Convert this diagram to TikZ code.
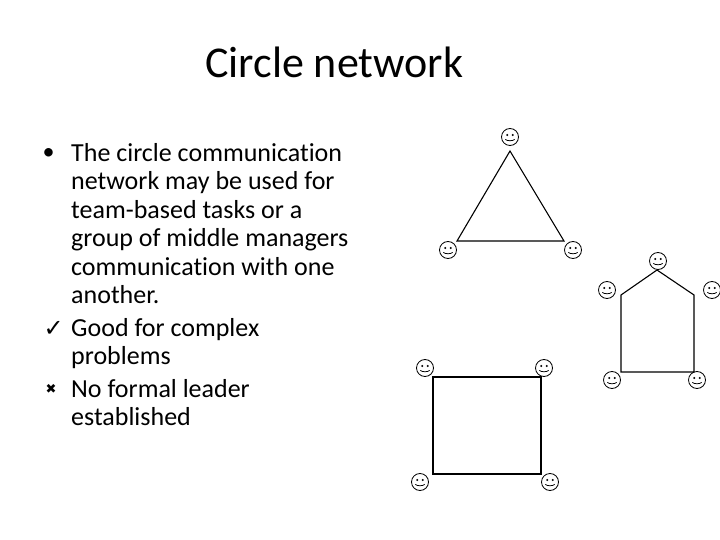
\documentclass[tikz,border=0pt]{standalone}
\usepackage{fontspec}
\setmainfont{Carlito}[Ligatures=CommonOff]
\newfontfamily\symfont{DejaVu Sans}
\begin{document}
\begin{tikzpicture}[x=1pt,y=-1pt,
  smiley/.style={circle,draw=black,line width=0.8pt,minimum size=17pt,inner sep=0pt,
    path picture={
      \fill (path picture bounding box.center) ++(-2.8pt,2pt) circle (1.1pt);
      \fill (path picture bounding box.center) ++(2.8pt,2pt) circle (1.1pt);
      \draw[line width=0.8pt] (path picture bounding box.center) ++(-4.6pt,-2.4pt)
        .. controls +(2pt,-1.8pt) and +(-2pt,-1.8pt) .. ++(9.2pt,0pt);
    }},
  netline/.style={line width=1.1pt,draw=black,line join=miter},
  titletext/.style={anchor=base west,inner sep=0pt,font=\fontsize{44}{52}\selectfont},
  bodytext/.style={anchor=base west,inner sep=0pt,align=left,font=\fontsize{26}{28.5}\selectfont},
  marktext/.style={anchor=base west,inner sep=0pt}
]
\useasboundingbox (0,0) rectangle (720,540);
\fill[white] (0,0) rectangle (720,540);

\node[titletext] (title) at (205,78) {Circle network};

\node[marktext,font=\fontsize{24}{28}\selectfont] (b1) at (42.5,160) {•};
\node[bodytext] (p1) at (71,303.5) {The circle communication\\network may be used for\\team-based tasks or a\\group of middle managers\\communication with one\\another.};
\node[marktext,font=\symfont\fontsize{24}{28}\selectfont] (b2) at (43.5,336) {✓};
\node[bodytext] (p2) at (71,364.5) {Good for complex\\problems};
\node[marktext,font=\symfont\fontsize{13}{16}\selectfont] (b3) at (45.5,393) {✖};
\node[bodytext] (p3) at (71,425.5) {No formal leader\\established};

% triangle
\node[smiley] (ta) at (510,137) {};
\node[smiley] (tb) at (448,250) {};
\node[smiley] (tc) at (573,250) {};
\coordinate (t1) at (510,151);
\coordinate (t2) at (457,241);
\coordinate (t3) at (564,241);
\draw[netline] (t1) -- (t2) -- (t3) -- cycle;

% pentagon
\node[smiley] (pa) at (658,261) {};
\node[smiley] (pb) at (607,290) {};
\node[smiley] (pc) at (712,290) {};
\node[smiley] (pd) at (612,380) {};
\node[smiley] (pe) at (697,380) {};
\coordinate (q1) at (657,270);
\coordinate (q2) at (694,295);
\coordinate (q3) at (694,372);
\coordinate (q4) at (621,372);
\coordinate (q5) at (621,295);
\draw[netline] (q1) -- (q2) -- (q3) -- (q4) -- (q5) -- cycle;

% square
\node[smiley] (sa) at (425,368) {};
\node[smiley] (sb) at (544,368) {};
\node[smiley] (sc) at (420,482) {};
\node[smiley] (sd) at (550,482) {};
\coordinate (s1) at (433,377);
\coordinate (s2) at (541,377);
\coordinate (s3) at (541,474);
\coordinate (s4) at (433,474);
\draw[netline] (s1) -- (s2) -- (s3) -- (s4) -- cycle;
\end{tikzpicture}
\end{document}
